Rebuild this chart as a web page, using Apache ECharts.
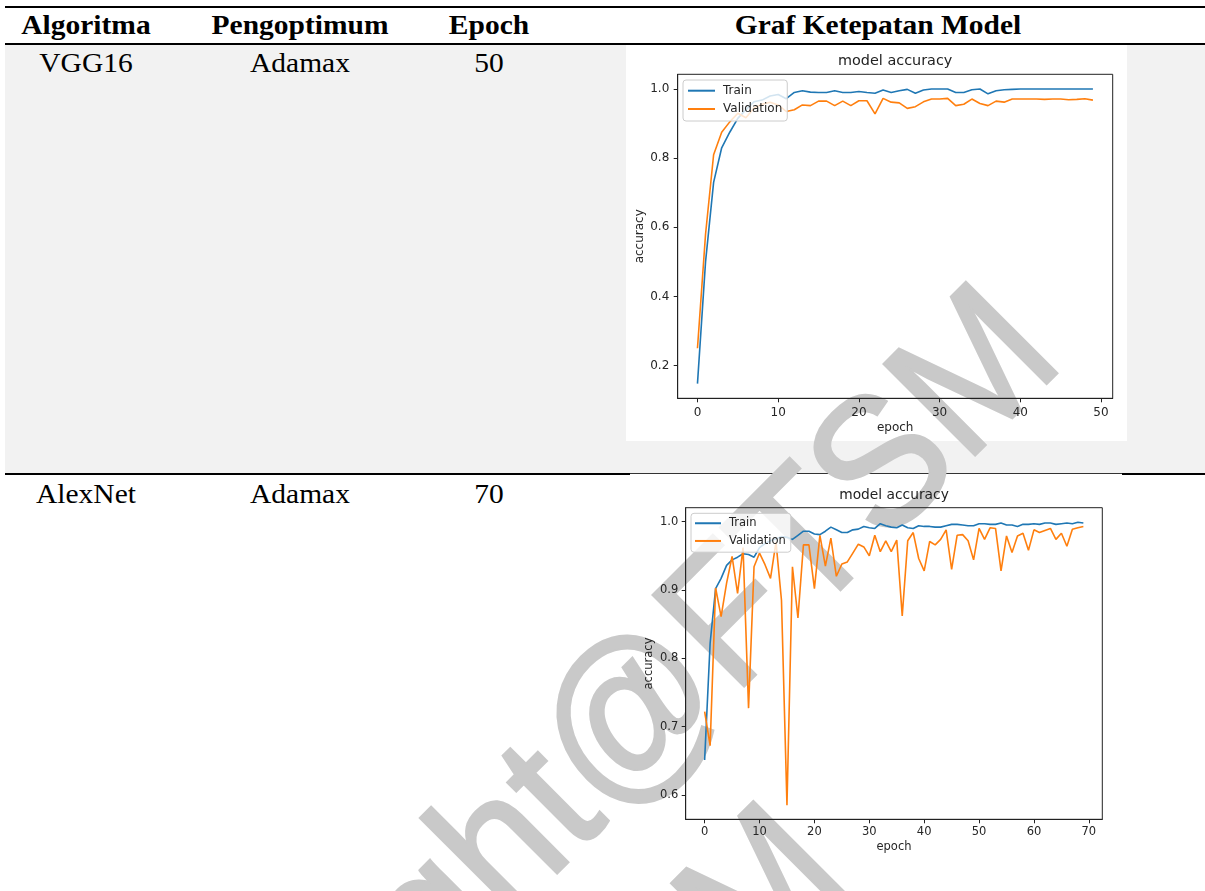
<!DOCTYPE html>
<html>
<head>
<meta charset="utf-8">
<script src="https://cdn.jsdelivr.net/npm/echarts@6/dist/echarts.min.js"></script>
<style>
  html, body { margin:0; padding:0; background:#fff; }
  #page { position:relative; width:1205px; height:891px; overflow:hidden; background:#fff; }
  .abs { position:absolute; }
  .cell { position:absolute; font-family:"Liberation Serif","Times New Roman",serif; font-size:28px; line-height:28px; color:#000; text-align:center; white-space:nowrap; transform:scaleX(1.053); transform-origin:50% 50%; }
  .hdr { font-weight:bold; }
  #chart { position:absolute; left:0; top:0; width:1205px; height:891px; }
</style>
</head>
<body>
<div id="page">
  <div class="abs" style="left:5px;top:45px;width:1200px;height:428px;background:#f2f2f2"></div>
  <div class="abs" style="left:626px;top:45px;width:501px;height:396px;background:#fff"></div>
  <div class="abs" style="left:5px;top:6px;width:1200px;height:2px;background:#000"></div>
  <div class="abs" style="left:5px;top:43px;width:1200px;height:2px;background:#000"></div>
  <div class="abs" style="left:5px;top:473px;width:625px;height:2px;background:#000"></div>
  <div class="abs" style="left:630px;top:473px;width:492px;height:1px;background:#333"></div>
  <div class="abs" style="left:1122px;top:473px;width:83px;height:2px;background:#000"></div>
  <div id="cells"></div>
  <div id="chart"></div>
</div>
<script>
// ---- table content ----
const headers = ['Algoritma', 'Pengoptimum', 'Epoch', 'Graf Ketepatan Model'];
const algorithms = ['VGG16', 'AlexNet'];
const optimizers = ['Adamax', 'Adamax'];
const epochCounts = ['50', '70'];

// ---- chart content ----
const seriesNames = ['Train', 'Validation'];
const chartTitle = 'model accuracy';
const xName = 'epoch';
const yName = 'accuracy';

const vggTrain = [0.148,0.50,0.73,0.83,0.875,0.915,0.94,0.963,0.968,0.98,
  0.984,0.972,0.99,0.995,0.991,0.99,0.99,0.995,0.99,0.99,
  0.993,0.99,0.988,0.997,0.99,0.995,0.999,0.988,0.997,1.0,
  1.0,1.0,0.99,0.99,0.998,1.0,0.986,0.995,0.998,0.999,
  1.0,1.0,1.0,1.0,1.0,1.0,1.0,1.0,1.0,1.0];
const vggVal = [0.25,0.58,0.81,0.875,0.905,0.93,0.917,0.945,0.956,0.962,
  0.954,0.935,0.94,0.954,0.952,0.965,0.965,0.952,0.965,0.952,
  0.966,0.966,0.928,0.973,0.962,0.96,0.944,0.949,0.963,0.971,
  0.971,0.973,0.952,0.956,0.971,0.958,0.952,0.965,0.962,0.971,
  0.971,0.971,0.971,0.970,0.971,0.971,0.969,0.970,0.972,0.968];

const alexTrain = [0.651,0.822,0.902,0.917,0.936,0.944,0.948,0.953,0.952,0.948,
  0.962,0.968,0.972,0.975,0.978,0.977,0.974,0.980,0.986,0.986,
  0.982,0.981,0.986,0.992,0.988,0.984,0.984,0.988,0.989,0.993,
  0.991,0.990,0.997,0.994,0.992,0.991,0.995,0.991,0.990,0.994,
  0.993,0.993,0.992,0.992,0.994,0.996,0.996,0.995,0.994,0.994,
  0.997,0.997,0.996,0.996,0.998,0.995,0.995,0.993,0.996,0.996,
  0.997,0.996,0.998,0.998,0.996,0.997,0.998,0.997,0.999,0.998];
const alexVal = [0.722,0.672,0.903,0.861,0.91,0.949,0.895,0.962,0.727,0.934,
  0.954,0.937,0.917,0.970,0.885,0.585,0.934,0.859,0.966,0.966,
  0.902,0.980,0.935,0.976,0.920,0.938,0.941,0.954,0.967,0.963,
  0.950,0.980,0.956,0.972,0.956,0.973,0.862,0.972,0.984,0.946,
  0.928,0.971,0.966,0.974,0.988,0.930,0.980,0.981,0.972,0.944,
  0.990,0.974,0.991,0.990,0.928,0.979,0.955,0.979,0.983,0.958,
  0.988,0.984,0.987,0.990,0.974,0.983,0.964,0.989,0.991,0.993];

const xTicks1 = [0, 10, 20, 30, 40, 50];
const yTicks1 = [0.2, 0.4, 0.6, 0.8, 1.0];
const xTicks2 = [0, 10, 20, 30, 40, 50, 60, 70];
const yTicks2 = [0.6, 0.7, 0.8, 0.9, 1.0];

const watermark = ['Copyright@FTSM', 'UKM'];

// ---- build table text ----
const colCenters = [86, 300, 489, 878];
const cellsEl = document.getElementById('cells');
function addCell(text, cx, baseline, bold) {
  const d = document.createElement('div');
  d.className = 'cell' + (bold ? ' hdr' : '');
  d.textContent = text;
  d.style.left = (cx - 200) + 'px';
  d.style.width = '400px';
  d.style.top = (baseline - 23.4) + 'px';
  cellsEl.appendChild(d);
}
headers.forEach((h, i) => addCell(h, colCenters[i], 34.8, true));
const rowBaselines = [72, 503];
algorithms.forEach((a, r) => {
  addCell(a, colCenters[0], rowBaselines[r], false);
  addCell(optimizers[r], colCenters[1], rowBaselines[r], false);
  addCell(epochCounts[r], colCenters[2], rowBaselines[r], false);
});

// ---- charts ----
const FONT = '"DejaVu Sans", sans-serif';
const TXT = '#262626';
const BLUE = '#1f77b4', ORANGE = '#ff7f0e';

function toPairs(arr) { return arr.map((v, i) => [i, v]); }

function xAxisCfg(gi, min, max, ticks, margin, gap, fs) {
  return {
    gridIndex: gi, type: 'value', min: min, max: max,
    axisLine: { show: true, onZero: false, lineStyle: { color: '#222', width: 1 } },
    axisTick: { show: true, length: 4, customValues: ticks, lineStyle: { color: '#222' } },
    axisLabel: { customValues: ticks, margin: margin, fontSize: fs, color: TXT, fontFamily: FONT,
      formatter: v => String(Math.round(v)) },
    splitLine: { show: false },
    name: xName, nameLocation: 'middle', nameGap: gap,
    nameTextStyle: { fontSize: fs, color: TXT, fontFamily: FONT }
  };
}
function yAxisCfg(gi, min, max, ticks, margin, gap, fs) {
  return {
    gridIndex: gi, type: 'value', min: min, max: max,
    axisLine: { show: true, onZero: false, lineStyle: { color: '#222', width: 1 } },
    axisTick: { show: true, length: 4, customValues: ticks, lineStyle: { color: '#222' } },
    axisLabel: { customValues: ticks, margin: margin, fontSize: fs, color: TXT, fontFamily: FONT,
      formatter: v => v.toFixed(1) },
    splitLine: { show: false },
    name: yName, nameLocation: 'middle', nameGap: gap,
    nameTextStyle: { fontSize: fs, color: TXT, fontFamily: FONT }
  };
}
function lineSeries(name, data, color, idx) {
  return {
    name: name, type: 'line', xAxisIndex: idx, yAxisIndex: idx,
    data: toPairs(data), showSymbol: false, symbol: 'none', z: 3,
    lineStyle: { color: color, width: 1.6 }, itemStyle: { color: color }
  };
}
function legendCfg(left, top, pad, gap, lh, fs, iw) {
  return {
    data: seriesNames, orient: 'vertical', left: left, top: top,
    padding: pad, itemGap: gap, itemWidth: iw, itemHeight: 2, icon: 'rect',
    backgroundColor: 'rgba(255,255,255,0.8)', borderColor: '#cccccc', borderWidth: 1, borderRadius: 3,
    textStyle: { fontSize: fs, color: TXT, fontFamily: FONT, lineHeight: lh, padding: [0, 0, 0, 3] },
    selectedMode: false
  };
}

const chart = echarts.init(document.getElementById('chart'), null, { renderer: 'canvas' });
const WM_STYLE = { font: '187px "Liberation Sans"', fill: '#c9c9c9', stroke: '#c9c9c9', lineWidth: 3,
  align: 'right', verticalAlign: 'middle' };
const option = {
  animation: false,
  backgroundColor: 'transparent',
  grid: [
    { left: 677.7, top: 74.3, width: 435, height: 324, show: true, borderColor: '#222', borderWidth: 1, backgroundColor: 'transparent', z: 2 },
    { left: 685.7, top: 507.7, width: 416.6, height: 311.6, show: true, borderColor: '#222', borderWidth: 1, backgroundColor: 'transparent', z: 2 }
  ],
  xAxis: [
    xAxisCfg(0, -2.45, 51.45, xTicks1, 8.4, 23.7, 12),
    xAxisCfg(1, -3.45, 72.45, xTicks2, 7, 21.7, 11.5)
  ],
  yAxis: [
    yAxisCfg(0, 0.1054, 1.0426, yTicks1, 8.4, 31.7, 12),
    yAxisCfg(1, 0.5643, 1.0204, yTicks2, 7.4, 30.7, 11.5)
  ],
  legend: [
    legendCfg(683, 80, [3.7, 5, 5, 5], 4.3, 14, 12, 27),
    legendCfg(691, 513.3, [3.2, 5, 4.5, 4], 4.2, 13.5, 11.5, 26)
  ],
  series: [
    lineSeries(seriesNames[0], vggTrain, BLUE, 0),
    lineSeries(seriesNames[1], vggVal, ORANGE, 0),
    lineSeries(seriesNames[0], alexTrain, BLUE, 1),
    lineSeries(seriesNames[1], alexVal, ORANGE, 1)
  ],
  graphic: [
    { type: 'text', x: 895.2, y: 61.7, z: 10,
      style: { text: chartTitle, font: '14.4px "DejaVu Sans"', fill: '#222', align: 'center', verticalAlign: 'middle' } },
    { type: 'text', x: 894, y: 495.7, z: 10,
      style: { text: chartTitle, font: '13.8px "DejaVu Sans"', fill: '#222', align: 'center', verticalAlign: 'middle' } },
    { type: 'text', x: 1030.4, y: 326.7, rotation: Math.PI / 4, scaleX: 0.925, z: 0, zlevel: 0, silent: true,
      style: Object.assign({ text: watermark[0] }, WM_STYLE) },
    { type: 'text', x: 818, y: 846, rotation: Math.PI / 4, scaleX: 0.925, z: 0, zlevel: 0, silent: true,
      style: Object.assign({ text: watermark[1] }, WM_STYLE) }
  ]
};
chart.setOption(option);
</script>
</body>
</html>
